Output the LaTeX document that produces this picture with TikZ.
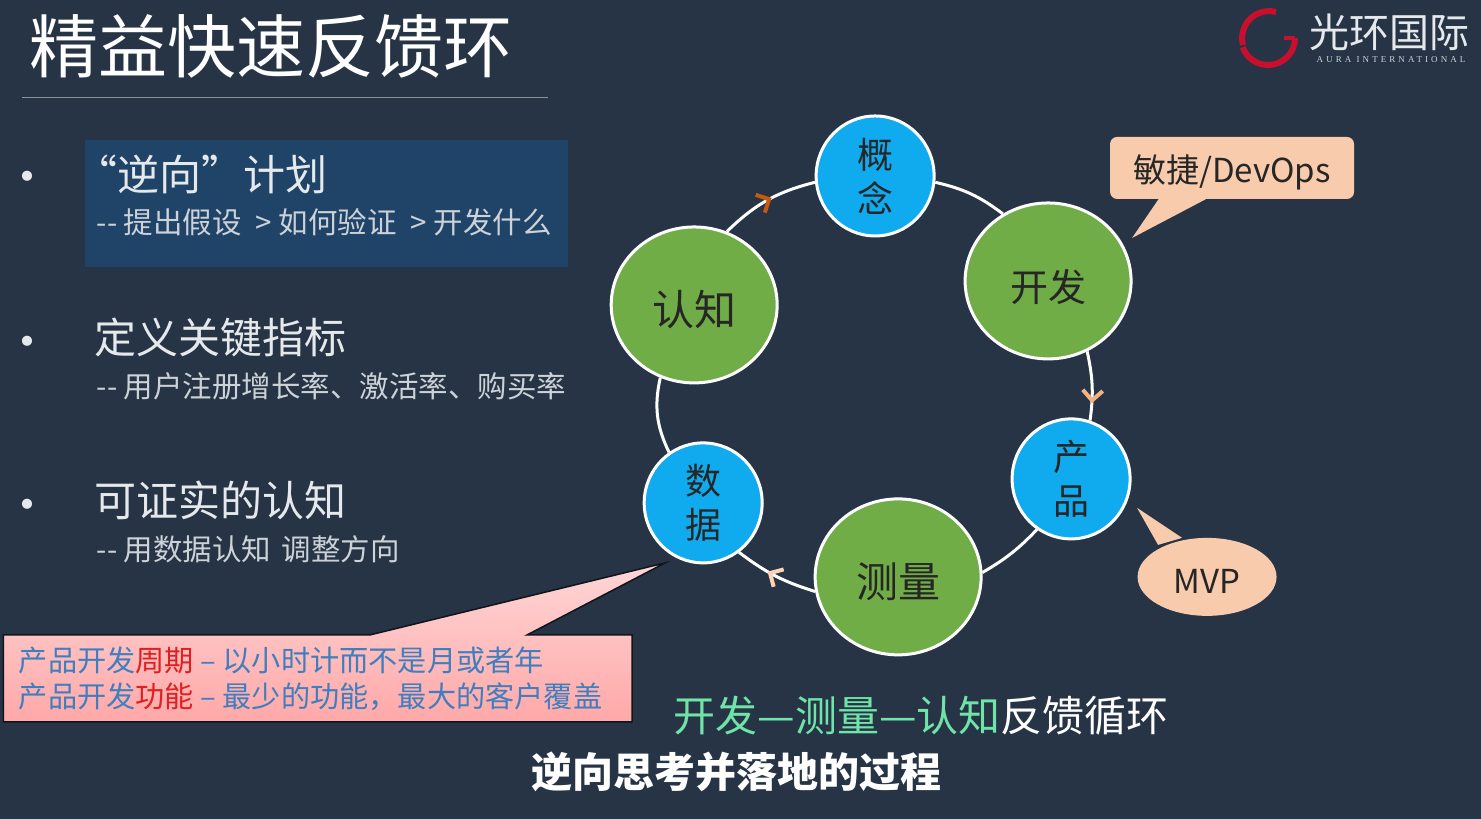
\documentclass[tikz,border=0pt]{standalone}
\usepackage{fontspec}
\setmainfont{Noto Sans CJK SC}
\newfontfamily\logolatin[LetterSpace=34]{Liberation Serif}
\usetikzlibrary{arrows.meta,decorations.markings,shapes.geometric}
\definecolor{bgnavy}{HTML}{263445}
\definecolor{bandblue}{HTML}{1F4468}
\definecolor{rulegrey}{HTML}{8A929C}
\definecolor{softwhite}{HTML}{E6E9EC}
\definecolor{subgrey}{HTML}{CDD2D8}
\definecolor{leafgreen}{HTML}{70AD47}
\definecolor{skyblue}{HTML}{10AAEE}
\definecolor{peach}{HTML}{F8CBAD}
\definecolor{tipdark}{HTML}{C55A11}
\definecolor{tiplight}{HTML}{F4B183}
\definecolor{tippale}{HTML}{FBD5B5}
\definecolor{pinktop}{HTML}{FFD6D6}
\definecolor{pinkbottom}{HTML}{FFA8A8}
\definecolor{noteblue}{HTML}{3F7FBF}
\definecolor{notered}{HTML}{E02020}
\definecolor{loopgreen}{HTML}{6FE3A8}
\definecolor{logored}{HTML}{C8102E}
\newcommand{\fsize}[2]{\fontsize{#1}{#2}\selectfont}
\tikzset{
  head/.style={anchor=west,text=softwhite,font=\fsize{42}{46}},
  subhead/.style={anchor=west,text=subgrey,font=\fsize{29.5}{34}},
  dot/.style={text=softwhite,font=\fsize{48}{52}},
  sinktext/.style={execute at begin node={\rule{0pt}{#1}}},
  greenring/.style={ellipse,draw=white,line width=3pt,fill=leafgreen,
    minimum width=166pt,minimum height=156pt,inner sep=0pt,
    text=black!85,font=\fsize{42}{48},sinktext=45pt},
  bluering/.style={ellipse,draw=white,line width=3pt,fill=skyblue,
    minimum width=118pt,minimum height=120pt,inner sep=0pt,align=center,
    text=black!85,font=\fsize{36}{44},sinktext=38pt},
  ringline/.style={draw=white,line width=3pt},
  midtip/.style 2 args={postaction={decorate},decoration={markings,
    mark=at position #1 with {\arrow[#2]{Straight Barb[length=10pt,width=20pt,line width=4pt]}}}},
}
\begin{document}
\begin{tikzpicture}[x=1pt,y=-1pt]
  \fill[bgnavy] (0,0) rectangle (1481,819);
  \path (26,46) node[anchor=west,text=white,font=\fsize{69}{76}] (title) {精益快速反馈环};
  \draw[rulegrey,line width=1pt] (22,98)--(548,98);
  \draw[logored,line width=6pt] (1276,12) arc[start angle=75,end angle=195,radius=27pt];
  \draw[logored,line width=6pt] (1295,38) arc[start angle=0,end angle=-160,radius=27pt];
  \draw[logored,line width=4pt] (1284,38)--(1295,38);
  \path (1389,32) node[text=softwhite,font=\fsize{40}{44}] (logotext) {光环国际};
  \path (1391,60) node[text=subgrey,font=\logolatin\fsize{9}{10}] (logosub) {AURA INTERNATIONAL};
  \fill[bandblue] (85,140) rectangle (568,267);
  \path (27,183) node[dot] (dota) {•};
  \path (27,348) node[dot] (dotb) {•};
  \path (27,511) node[dot] (dotc) {•};
  \path (72,174) node[head] (plan) {“逆向”计划};
  \path (93,222) node[subhead] (plansub) {-{}- 提出假设\hspace{14pt}> 如何验证\hspace{14pt}> 开发什么};
  \path (91,338) node[head] (metric) {定义关键指标};
  \path (93,386) node[subhead] (metricsub) {-{}- 用户注册增长率、激活率、购买率};
  \path (91,501) node[head] (learn) {可证实的认知};
  \path (93,549) node[subhead] (learnsub) {-{}- 用数据认知\hspace{4pt} 调整方向};
  \path (694,305) node[greenring] (renzhi) {认知};
  \path (1048,281) node[greenring,font=\fsize{38}{44},sinktext=41pt] (kaifa) {开发};
  \path (898,577) node[greenring] (celiang) {测量};
  \path (875,176) node[bluering] (gainian) {概\\念};
  \path (1071,479) node[bluering] (chanpin) {产\\品};
  \path (703,503) node[bluering] (shuju) {数\\据};
  \path[ringline,midtip={.55}{tipdark}] (renzhi.66) to[bend left=15] (gainian.186);
  \path[ringline] (gainian.-6) to[bend left=12] (kaifa.124);
  \path[ringline,midtip={.75}{tiplight}] (kaifa.-61) to[bend left=10] (chanpin.72);
  \path[ringline] (chanpin.-124) to[bend left=8] (celiang.3);
  \path[ringline,midtip={.6}{tippale}] (celiang.190) to[bend left=10] (shuju.-54);
  \path[ringline] (shuju.124) to[bend left=19] (renzhi.-115);
  \fill[peach] (1160,197)--(1132,238)--(1210,197)--cycle;
  \path (1232,168) node[fill=peach,rounded corners=7pt,minimum width=244pt,minimum height=62pt,
    text=black!85,font=\fsize{33}{38},sinktext=36pt] (agile) {敏捷/DevOps};
  \fill[peach] (1158,545)--(1137,508)--(1182,538)--cycle;
  \path (1207,577) node[ellipse,fill=peach,minimum width=139pt,minimum height=78pt,inner sep=0pt,
    text=black!85,font=\fsize{33}{38},sinktext=34pt] (mvp) {MVP};
  \draw[top color=pinktop,bottom color=pinkbottom,draw=black!60!bgnavy,line width=1.5pt]
    (3,635)--(370,635)--(665,563)--(527,635)--(632,635)--(632,722)--(3,722)--cycle;
  \path (15,679) node[anchor=west,align=left,text=noteblue,font=\fsize{29.2}{36}] (note)
    {产品开发\textcolor{notered}{周期} -- 以小时计而不是月或者年\\产品开发\textcolor{notered}{功能} -- 最少的功能，最大的客户覆盖};
  \path (921,716) node[text=white,font=\fsize{42}{46}] (loop)
    {\textcolor{loopgreen}{开发—测量—认知}反馈循环};
  \path (736,772) node[text=white,font=\bfseries\fsize{41}{46}] (caption) {逆向思考并落地的过程};
\end{tikzpicture}
\end{document}
